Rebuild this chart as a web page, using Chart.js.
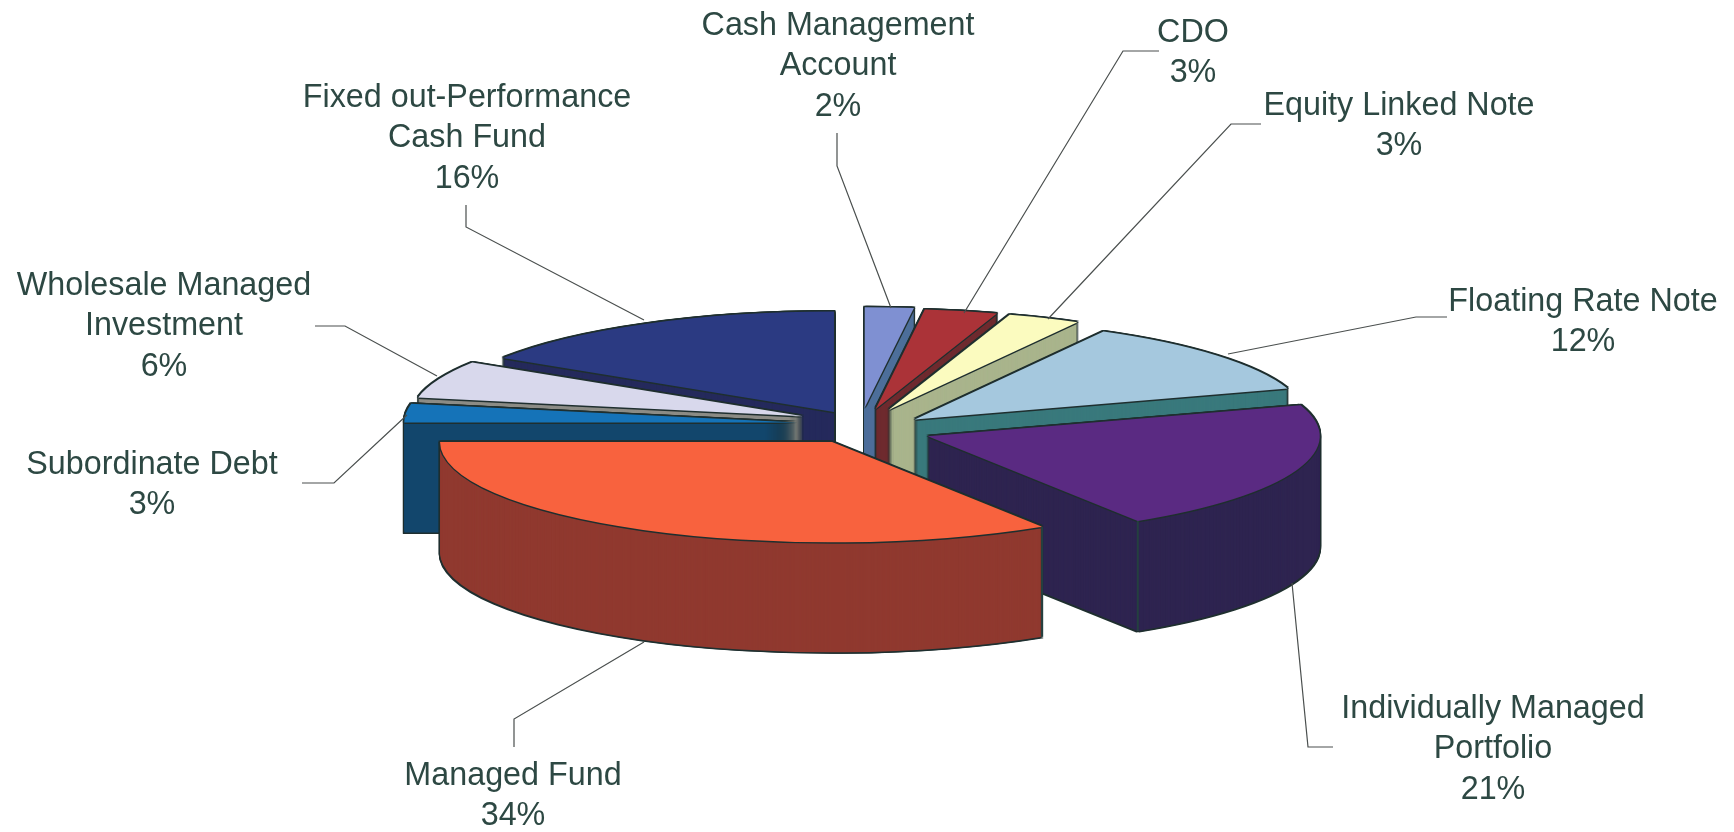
<!DOCTYPE html>
<html>
<head>
<meta charset="utf-8">
<title>Portfolio split</title>
<script src="https://cdn.jsdelivr.net/npm/chart.js@4/dist/chart.umd.min.js"></script>
<style>
	html, body { margin: 0; background: #fff; }
	canvas { display: block; }
</style>
</head>
<body>
<canvas id="myChart" width="1734" height="832"></canvas>
<script>
// Chart data, clockwise from 12 o'clock
const categories = ['Cash Management Account', 'CDO', 'Equity Linked Note', 'Floating Rate Note',
	'Individually Managed Portfolio', 'Managed Fund', 'Subordinate Debt', 'Wholesale Managed Investment',
	'Fixed out-Performance Cash Fund'];
const shares = [2, 3, 3, 12, 21, 34, 3, 6, 16];

// Slice colours: top surface and wall
const topColors = ['#7f90d2', '#ab3338', '#fbfbbf', '#a5c8de', '#5a2a82', '#f8623e', '#1573b8', '#d8d8ec', '#2b3a82'];
const sideColors = ['#4d6f9a', '#6e2a2e', '#a9b48c', '#39797c', '#2e2450', '#90392f', '#13466c', '#8c8c86', '#252a5c'];

// How far each slice is pulled out, a small vertical correction, and the order that paints back to front
const explode = [76, 72, 72, 71, 72, 58, 64, 61, 54];
const settle = [0, 0, 0, 4, 3, 2, -3, -5, -3];
const paintOrder = [8, 7, 6, 0, 1, 2, 3, 4, 5];

// Label text lines and leader lines, one entry per category
const labelLines = [
	['Cash Management', 'Account', '2%'], ['CDO', '3%'], ['Equity Linked Note', '3%'], ['Floating Rate Note', '12%'],
	['Individually Managed', 'Portfolio', '21%'], ['Managed Fund', '34%'], ['Subordinate Debt', '3%'],
	['Wholesale Managed', 'Investment', '6%'], ['Fixed out-Performance', 'Cash Fund', '16%']
];
const labelAnchors = [[838, 26], [1193, 33], [1399, 106], [1583, 302], [1493, 709], [513, 776], [152, 465], [164, 286], [467, 98]];
const leaders = [
	[[837, 133], [837, 166], [891, 308]],
	[[1159, 51], [1123, 51], [964, 313]],
	[[1261, 124], [1231, 124], [1048, 319]],
	[[1447, 317], [1416, 317], [1228, 354]],
	[[1333, 747], [1308, 747], [1292, 583]],
	[[514, 747], [514, 719], [644, 642]],
	[[302, 483], [334, 483], [407, 415]],
	[[315, 326], [345, 326], [437, 376]],
	[[466, 205], [466, 227], [644, 320]]
];

const pieX = 860;
const pieY = 427;
const squash = 0.256;
const depth = 110;
const outline = '#1f2f2f';

// Paints one arc element flattened and shifted by (nudge, drop) pixels
function paintArc(ctx, arc, index, color, drop, nudge) {
	const mid = (arc.startAngle + arc.endAngle) / 2;
	const saved = arc.options;
	arc.options = { ...saved, backgroundColor: color, borderWidth: 0 };
	ctx.save();
	ctx.translate(pieX + nudge + Math.cos(mid) * explode[index],
		pieY + settle[index] + drop + Math.sin(mid) * explode[index] * squash);
	ctx.scale(1, squash);
	ctx.translate(-arc.x, -arc.y);
	arc.draw(ctx);
	ctx.restore();
	arc.options = saved;
}

const flatPie = {
	id: 'flatPie',
	beforeDatasetsDraw(chart) {
		const ctx = chart.ctx;
		const arcs = chart.getDatasetMeta(0).data;
		paintOrder.forEach(i => {
			const arc = arcs[i];
			// dark copies first, they leave the outline around the solid
			for (let d = -1.5; d <= depth + 1.5; d++) {
				paintArc(ctx, arc, i, outline, d, -1.5);
				paintArc(ctx, arc, i, outline, d, 1.5);
			}
			for (let d = depth; d > 0; d--) {
				paintArc(ctx, arc, i, sideColors[i], d, 0);
			}
			paintArc(ctx, arc, i, outline, 1.5, 0);
			paintArc(ctx, arc, i, outline, -1.5, 0);
			paintArc(ctx, arc, i, outline, 0, 1.5);
			paintArc(ctx, arc, i, outline, 0, -1.5);
			paintArc(ctx, arc, i, topColors[i], 0, 0);

			// wall corners that face the viewer
			const mid = (arc.startAngle + arc.endAngle) / 2;
			[arc.startAngle, arc.endAngle].forEach(a => {
				if (Math.sin(a) <= 0.05) return;
				const x = pieX + Math.cos(mid) * explode[i] + Math.cos(a) * arc.outerRadius;
				const y = pieY + settle[i] + (Math.sin(mid) * explode[i] + Math.sin(a) * arc.outerRadius) * squash;
				ctx.beginPath();
				ctx.moveTo(x, y);
				ctx.lineTo(x, y + depth);
				ctx.strokeStyle = '#24403f';
				ctx.lineWidth = 2;
				ctx.stroke();
			});
		});
		return false;
	},
	afterDraw(chart) {
		const ctx = chart.ctx;
		ctx.save();
		ctx.strokeStyle = '#4a4f4e';
		ctx.lineWidth = 1.2;
		leaders.forEach(points => {
			ctx.beginPath();
			points.forEach((p, k) => k ? ctx.lineTo(p[0], p[1]) : ctx.moveTo(p[0], p[1]));
			ctx.stroke();
		});
		ctx.fillStyle = '#2d4843';
		ctx.font = '32.3px "Liberation Sans"';
		ctx.textAlign = 'center';
		ctx.textBaseline = 'middle';
		labelLines.forEach((lines, i) => {
			lines.forEach((text, k) => ctx.fillText(text, labelAnchors[i][0], labelAnchors[i][1] + k * 40.3));
		});
		ctx.restore();
	}
};

new Chart(document.getElementById('myChart').getContext('2d'), {
	type: 'pie',
	data: {
		labels: categories,
		datasets: [{ data: shares, backgroundColor: topColors, borderWidth: 0, radius: 392 }]
	},
	options: {
		responsive: false,
		animation: false,
		events: [],
		plugins: { legend: { display: false }, tooltip: { enabled: false } }
	},
	plugins: [flatPie]
});
</script>
</body>
</html>
